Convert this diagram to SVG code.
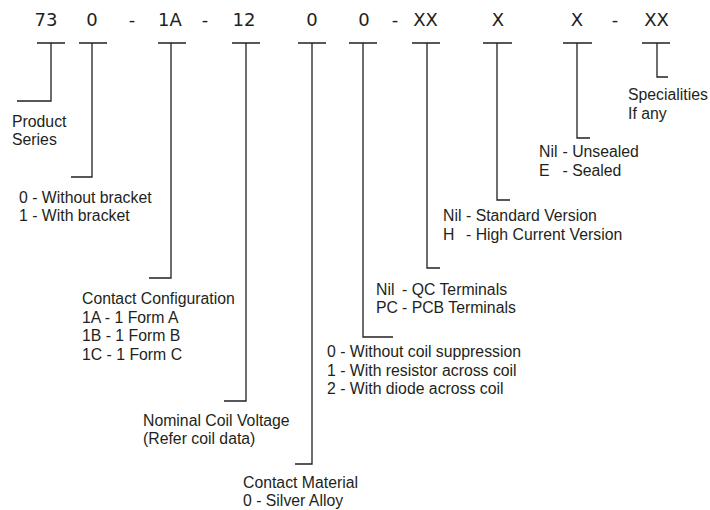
<svg xmlns="http://www.w3.org/2000/svg" width="710" height="510" viewBox="0 0 710 510">
<style>
.code{font-family:"DejaVu Sans",Verdana,sans-serif;font-size:18px;fill:#231f20;text-anchor:middle}
.lbl{font-family:"Liberation Sans",Arial,sans-serif;font-size:15.8px;fill:#231f20}
.ln{stroke:#231f20;stroke-width:1.3;fill:none}
</style>
<rect width="710" height="510" fill="#ffffff"/>
<g id="codes">
<text class="code" x="46" y="26">73</text>
<text class="code" x="92" y="26">0</text>
<text class="code" x="132" y="26">-</text>
<text class="code" x="170" y="26">1A</text>
<text class="code" x="205" y="26">-</text>
<text class="code" x="244" y="26">12</text>
<text class="code" x="312" y="26">0</text>
<text class="code" x="364" y="26">0</text>
<text class="code" x="395" y="26">-</text>
<text class="code" x="425.5" y="26">XX</text>
<text class="code" x="498" y="26">X</text>
<text class="code" x="577" y="26">X</text>
<text class="code" x="615" y="26">-</text>
<text class="code" x="656.5" y="26">XX</text>
</g>
<g id="connectors">
<path class="ln" d="M37 43H65M51 43V101H17"/>
<path class="ln" d="M79 43H107M92 43V177H71"/>
<path class="ln" d="M158 43H186M171 43V278H149"/>
<path class="ln" d="M232 43H260M246 43V401H224"/>
<path class="ln" d="M298 43H326M312 43V464H295"/>
<path class="ln" d="M349 43H377M363 43V337H393"/>
<path class="ln" d="M412 43H440M427 43V268H440"/>
<path class="ln" d="M483 43H512M497 43V200H510"/>
<path class="ln" d="M563 43H592M577 43V138H590"/>
<path class="ln" d="M642 43H670M657 43V77H668"/>
</g>
<g id="product-series">
<text class="lbl" x="12" y="127">Product</text>
<text class="lbl" x="12" y="145">Series</text>
</g>
<g id="bracket">
<text class="lbl" x="19" y="203">0 - Without bracket</text>
<text class="lbl" x="19" y="221">1 - With bracket</text>
</g>
<g id="contact-configuration">
<text class="lbl" x="82" y="304">Contact Configuration</text>
<text class="lbl" x="82" y="322.5">1A - 1 Form A</text>
<text class="lbl" x="82" y="341">1B - 1 Form B</text>
<text class="lbl" x="82" y="359.5">1C - 1 Form C</text>
</g>
<g id="coil-voltage">
<text class="lbl" x="143" y="426">Nominal Coil Voltage</text>
<text class="lbl" x="143" y="444">(Refer coil data)</text>
</g>
<g id="contact-material">
<text class="lbl" x="243" y="488">Contact Material</text>
<text class="lbl" x="243" y="506">0 - Silver Alloy</text>
</g>
<g id="coil-suppression">
<text class="lbl" x="327" y="357">0 - Without coil suppression</text>
<text class="lbl" x="327" y="375.5">1 - With resistor across coil</text>
<text class="lbl" x="327" y="394">2 - With diode across coil</text>
</g>
<g id="terminals">
<text class="lbl" x="376" y="295">Nil<tspan x="402">- QC Terminals</tspan></text>
<text class="lbl" x="376" y="313">PC<tspan x="402">- PCB Terminals</tspan></text>
</g>
<g id="version">
<text class="lbl" x="443" y="221">Nil<tspan x="466">- Standard Version</tspan></text>
<text class="lbl" x="443" y="240">H<tspan x="466">- High Current Version</tspan></text>
</g>
<g id="sealing">
<text class="lbl" x="539" y="157">Nil<tspan x="562.5">- Unsealed</tspan></text>
<text class="lbl" x="539" y="176">E<tspan x="562.5">- Sealed</tspan></text>
</g>
<g id="specialities">
<text class="lbl" x="628" y="100">Specialities</text>
<text class="lbl" x="628" y="119">If any</text>
</g>
</svg>
